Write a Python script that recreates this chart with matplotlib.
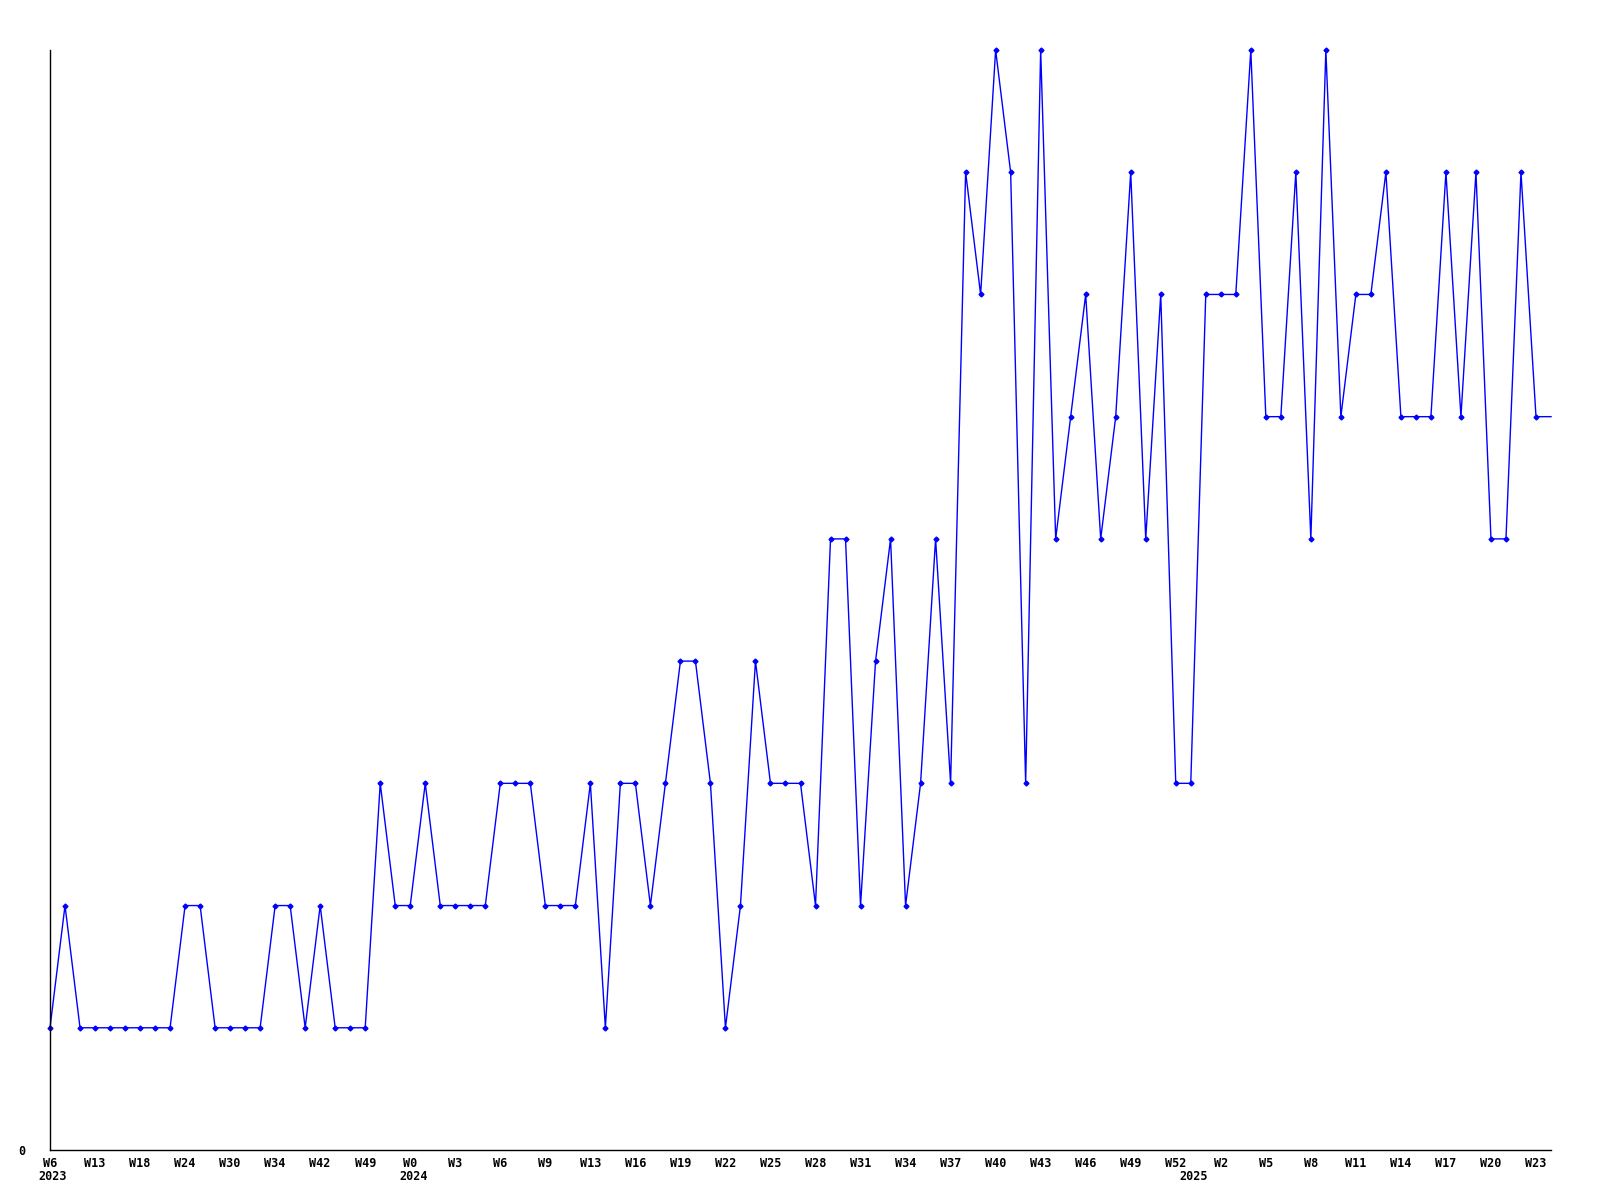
import matplotlib
matplotlib.use("Agg")
from matplotlib import pyplot as plt

# weekly values, one per point (last point is drawn without a marker)
values = [1, 2, 1, 1, 1, 1, 1, 1, 1, 2, 2, 1, 1, 1, 1, 2, 2, 1, 2, 1,
          1, 1, 3, 2, 2, 3, 2, 2, 2, 2, 3, 3, 3, 2, 2, 2, 3, 1, 3, 3,
          2, 3, 4, 4, 3, 1, 2, 4, 3, 3, 3, 2, 5, 5, 2, 4, 5, 2, 3, 5,
          3, 8, 7, 9, 8, 3, 9, 5, 6, 7, 5, 6, 8, 5, 7, 3, 3, 7, 7, 7,
          9, 6, 6, 8, 5, 9, 6, 7, 7, 8, 6, 6, 6, 8, 6, 8, 5, 5, 8, 6,
          6]

week_labels = ["W6", "W13", "W18", "W24", "W30", "W34", "W42", "W49", "W0",
               "W3", "W6", "W9", "W13", "W16", "W19", "W22", "W25", "W28",
               "W31", "W34", "W37", "W40", "W43", "W46", "W49", "W52", "W2",
               "W5", "W8", "W11", "W14", "W17", "W20", "W23"]
years = ["2023", "2024", "2025"]
year_pos = [0, 24, 76]

fig = plt.figure(figsize=(16, 12), dpi=100)
ax = fig.add_axes([50 / 1600, 50 / 1200, 1501 / 1600, 1100 / 1200])

x = list(range(len(values)))
ax.plot(x, values, color="#0000ff", lw=1, marker="D", markersize=2.5,
        markevery=slice(0, len(values) - 1), clip_on=False)

ax.set_xlim(0, len(values) - 1)
ax.set_ylim(0, 9)

#only the left and bottom axis lines
ax.spines["top"].set_visible(False)
ax.spines["right"].set_visible(False)
for s in ["left", "bottom"]:
    ax.spines[s].set_linewidth(1)
    ax.spines[s].set_color("black")

font = {"family": "DejaVu Sans Mono", "weight": "bold", "size": 8.5}

ax.set_xticks(x[0:len(week_labels) * 3:3])
ax.set_xticklabels(week_labels, fontdict=font)
ax.set_yticks([0])
ax.set_yticklabels(["0"], fontdict=font)
ax.tick_params(axis="x", length=0, pad=5)
ax.tick_params(axis="y", length=0, pad=18)

for yr, pos in zip(years, year_pos):
    ax.text(pos + 0.2, -0.0245, yr, transform=ax.get_xaxis_transform(),
            ha="center", va="center", fontdict=font)

fig.savefig("out.png", dpi=100)
